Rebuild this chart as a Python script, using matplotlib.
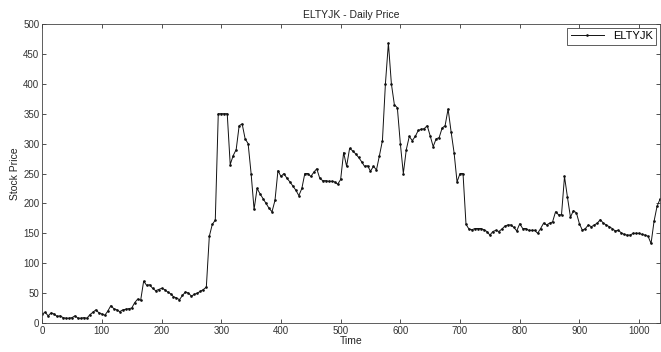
import numpy as np
import matplotlib
matplotlib.use("Agg")
import matplotlib.pyplot as plt

plt.rcParams['font.family'] = ['Liberation Sans', 'DejaVu Sans']

series_name = "ELTYJK"
title_text = "ELTYJK - Daily Price"
day_step = 5
price = [
    15, 18, 12, 17, 15, 11, 12, 9, 8, 8,
    9, 12, 8, 8, 9, 8, 14, 18, 22, 17,
    15, 13, 20, 29, 24, 22, 19, 22, 23, 24,
    25, 34, 40, 38, 70, 63, 64, 58, 54, 56,
    58, 56, 52, 49, 44, 42, 39, 46, 52, 50,
    45, 48, 50, 53, 56, 60, 145, 165, 172, 350,
    350, 350, 350, 265, 280, 290, 330, 333, 308, 300,
    250, 190, 225, 216, 208, 200, 192, 186, 205, 255,
    245, 250, 242, 236, 229, 222, 213, 225, 250, 250,
    245, 252, 258, 242, 238, 238, 237, 237, 236, 232,
    240, 285, 262, 292, 288, 283, 277, 270, 262, 263,
    254, 262, 256, 280, 305, 400, 468, 400, 365, 360,
    300, 250, 290, 312, 305, 312, 322, 324, 325, 330,
    313, 295, 308, 310, 326, 330, 358, 320, 285, 236,
    250, 250, 165, 157, 156, 158, 158, 158, 156, 153,
    147, 153, 155, 153, 157, 162, 164, 164, 160, 154,
    166, 158, 158, 155, 155, 155, 150, 158, 167, 164,
    167, 169, 186, 181, 181, 245, 210, 177, 188, 184,
    166, 155, 158, 164, 161, 164, 167, 173, 167, 164,
    161, 158, 154, 155, 151, 148, 147, 147, 150, 150,
    150, 148, 147, 145, 133, 170, 195, 207,
]
x_ticks = [0, 100, 200, 300, 400, 500, 600, 700, 800, 900, 1000]
y_ticks = [0, 50, 100, 150, 200, 250, 300, 350, 400, 450, 500]

time = np.arange(len(price)) * day_step

fig = plt.figure(figsize=(6.61, 3.52), dpi=100)
ax = fig.add_axes([0.0638, 0.0824, 0.9347, 0.8494])
ax.plot(time, price, color='#111111', linewidth=0.7, marker='.', markersize=1.8,
        label=series_name)
ax.set_xlim(0, time[-1])
ax.set_ylim(0, 500)
ax.set_xticks(x_ticks)
ax.set_yticks(y_ticks)
ax.tick_params(direction='in', length=3, width=0.6, labelsize=7, colors='#333333',
               top=True, right=True, pad=2)
for s in ax.spines.values():
    s.set_linewidth(0.6)
    s.set_color('#444444')
ax.set_title(title_text, fontsize=7.5, pad=4, color='#222222')
ax.set_xlabel("Time", fontsize=7.5, labelpad=0, color='#222222')
ax.set_ylabel("Stock Price", fontsize=7.5, labelpad=2, color='#222222')
leg = ax.legend(loc='upper right', fontsize=8, handlelength=3, fancybox=False,
                edgecolor='#444444', framealpha=1, borderpad=0.3,
                borderaxespad=0.35)
leg.get_frame().set_linewidth(0.6)
fig.savefig("out.png", dpi=100)
